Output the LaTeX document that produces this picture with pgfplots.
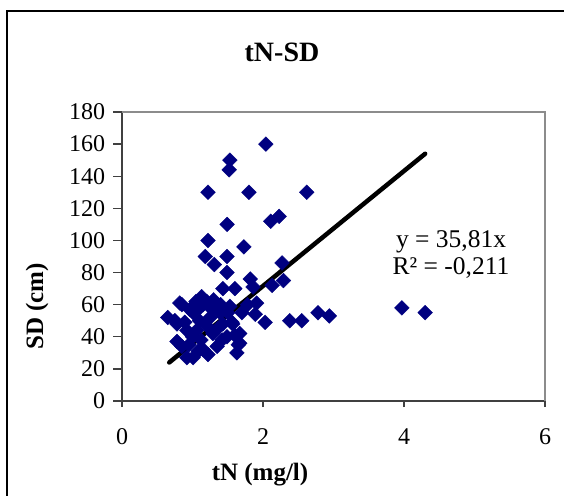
\documentclass[border=0pt]{standalone}
\usepackage{pgfplots}
\pgfplotsset{compat=1.18}
\usepackage{fontspec}
\setmainfont{Liberation Serif}
\definecolor{navy}{HTML}{000080}
\definecolor{framegray}{HTML}{8C8C8C}
\begin{document}
\begin{tikzpicture}
\useasboundingbox (0,0) rectangle (564pt,495pt);
\draw[line width=1.2pt, black] (7pt,-10pt) -- (7pt,484pt) -- (580pt,484pt);
\begin{axis}[
  at={(122pt,94pt)}, anchor=south west,
  scale only axis, width=423pt, height=289pt,
  xmin=0, xmax=6, ymin=0, ymax=180,
  xtick={0,2,4,6}, ytick={0,20,...,180},
  axis x line*=bottom, axis y line*=left,
  axis line style={line width=1.3pt, draw=black!75},
  tick align=outside,
  tick style={line width=1.3pt, black!75},
  xtick style={/pgfplots/major tick length=6pt},
  ytick style={/pgfplots/major tick length=9pt},
  ticklabel style={font=\fontsize{24}{28}\selectfont},
  /pgf/number format/assume math mode=true,
  xticklabel style={yshift=-20pt},
  yticklabel style={xshift=-9pt},
  clip=false,
]
\draw[framegray, line width=2pt] (rel axis cs:0,1) -- (rel axis cs:1,1) -- (rel axis cs:1,0);
\addplot[only marks, mark=square*, mark size=5.2pt,
  mark options={rotate=45, fill=navy, draw=navy}] coordinates {
(2.04,160) (1.53,150) (1.52,144) (1.22,130) (1.80,130) (2.62,130)
(1.49,110) (2.11,112) (2.23,115) (1.22,100) (1.73,96) (1.18,90)
(1.49,90) (1.31,85) (1.49,80) (2.27,86) (2.29,75) (1.82,76)
(1.86,71) (1.43,70) (1.60,70) (2.13,72) (1.91,61) (1.89,54)
(2.03,49) (2.38,50) (2.55,50) (2.78,55) (2.94,53) (3.97,58) (4.30,55)
(0.65,52) (0.82,61) (0.85,60) (0.96,57) (1.13,65) (1.15,60) (1.28,57)
(0.89,49) (0.78,37) (0.85,34) (1.01,27) (1.15,32) (1.22,29) (1.06,44)
(1.20,47) (1.29,42) (1.43,48) (1.56,49) (1.49,40) (1.60,41) (1.67,42)
(1.67,36) (1.63,30) (1.35,34) (1.42,38) (1.53,59) (1.50,55) (1.39,55)
(1.01,55) (0.92,44) (0.78,48) (1.10,50) (0.92,27) (1.08,31) (1.65,35)
(1.57,48) (1.20,62) (1.10,58) (1.00,40) (1.25,52) (1.35,45) (0.95,35)
(1.12,38) (1.05,62) (0.75,50) (1.30,63) (1.40,60) (1.70,55) (1.78,60)
};
\addplot[black, line width=4.5pt, line cap=round] coordinates {(0.67,24.0) (4.30,154.0)};
\end{axis}
\node[anchor=base, font=\fontsize{28}{32}\selectfont\bfseries] at (282pt,433pt) {tN-SD};
\node[anchor=base, font=\fontsize{25}{30}\selectfont\bfseries] at (260pt,15pt) {tN (mg/l)};
\node[anchor=base, rotate=90, font=\fontsize{25}{30}\selectfont\bfseries] at (43pt,188.5pt) {SD (cm)};
\node[anchor=base, font=\fontsize{25.5}{30}\selectfont] at (451pt,247pt) {y = 35,81x};
\node[anchor=base, font=\fontsize{25.5}{30}\selectfont] at (451pt,220pt) {R² = -0,211};
\end{tikzpicture}
\end{document}
